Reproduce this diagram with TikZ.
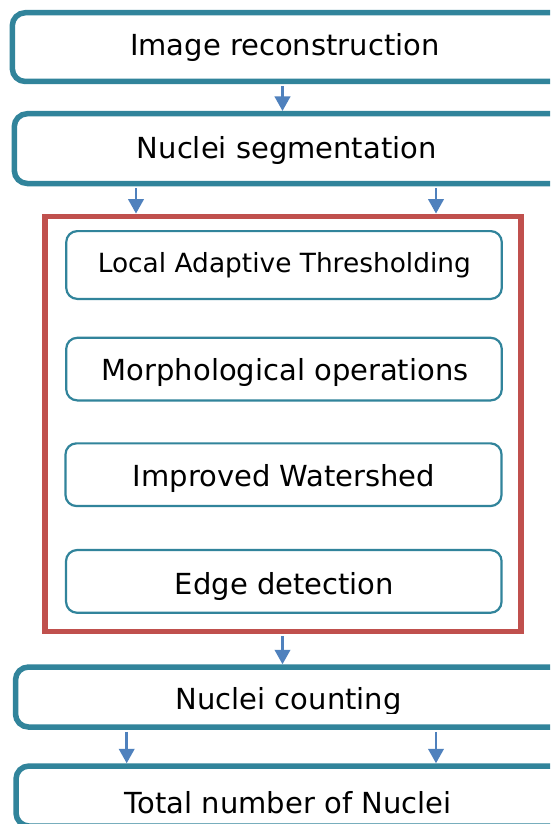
\documentclass[tikz,border=0pt]{standalone}
\usepackage{fontspec}
\setmainfont{DejaVu Sans}
\usetikzlibrary{arrows.meta}
\definecolor{tealbox}{HTML}{31849B}
\definecolor{arrblue}{HTML}{4F81BD}
\definecolor{boxred}{HTML}{C0504D}
\begin{document}
\begin{tikzpicture}[x=1pt,y=-1pt,
  bigbox/.style={draw=tealbox, line width=5.5pt, rounded corners=13pt, fill=white, outer sep=2.75pt, inner sep=0pt},
  smallbox/.style={draw=tealbox, line width=2.2pt, rounded corners=11pt, fill=white, outer sep=1.1pt, inner sep=0pt},
  redbox/.style={draw=boxred, line width=5.8pt, inner sep=0pt, outer sep=2.9pt},
  lbl/.style={anchor=base, inner sep=0pt, font=\fontsize{29pt}{34pt}\selectfont, text=black},
  lblsmall/.style={lbl, font=\fontsize{26.4pt}{31pt}\selectfont},
  arr/.style={draw=arrblue, line width=2.5pt, -{Triangle[width=15.5pt,length=14.5pt]}, shorten <=2pt}]
\clip (0,0) rectangle (550,824);
\fill[white] (0,0) rectangle (550,824);
% main boxes (they run past the right edge of the picture)
\node[bigbox, minimum width=562.7pt, minimum height=68.8pt] (b1) at (293.65,47.1) {};
\node[bigbox, minimum width=560.7pt, minimum height=69.8pt] (b2) at (294.65,148.6) {};
\node[redbox, minimum width=475.4pt, minimum height=415.1pt] (red) at (283,424) {};
\node[smallbox, minimum width=435.5pt, minimum height=67.8pt] (ba) at (284,265) {};
\node[smallbox, minimum width=435.5pt, minimum height=62.6pt] (bb) at (284,369.1) {};
\node[smallbox, minimum width=436pt, minimum height=62.7pt] (bc) at (283.5,474.7) {};
\node[smallbox, minimum width=435.5pt, minimum height=62.7pt] (bd) at (283.8,581.4) {};
\node[bigbox, minimum width=559.5pt, minimum height=60pt] (b4) at (295.25,697) {};
\node[bigbox, minimum width=559pt, minimum height=60pt] (b5) at (295.5,796) {};
% labels
\node[lbl] (t1) at (284.8,56) {Image reconstruction};
\node[lbl] (t2) at (286.8,158.3) {Nuclei segmentation};
\node[lblsmall] (ta) at (284.3,272.7) {Local Adaptive Thresholding};
\node[lbl] (tb) at (285.2,380.7) {Morphological operations};
\node[lbl] (tc) at (284,486) {Improved Watershed};
\node[lbl] (td) at (284.5,594) {Edge detection};
\begin{scope}
\clip (0,0) rectangle (550,713.5);
\node[lbl] (t4) at (288.7,709.5) {Nuclei counting};
\end{scope}
\node[lbl] (t5) at (288.2,813) {Total number of Nuclei};
% arrows
\draw[arr] (282.5,0 |- b1.south) -- (282.5,0 |- b2.north);
\draw[arr] (136,0 |- b2.south) -- (136,0 |- red.north);
\draw[arr] (436,0 |- b2.south) -- (436,0 |- red.north);
\draw[arr] (282.5,0 |- red.south) -- (282.5,0 |- b4.north);
\draw[arr] (126.7,0 |- b4.south) -- (126.7,0 |- b5.north);
\draw[arr] (436,0 |- b4.south) -- (436,0 |- b5.north);
\end{tikzpicture}
\end{document}
